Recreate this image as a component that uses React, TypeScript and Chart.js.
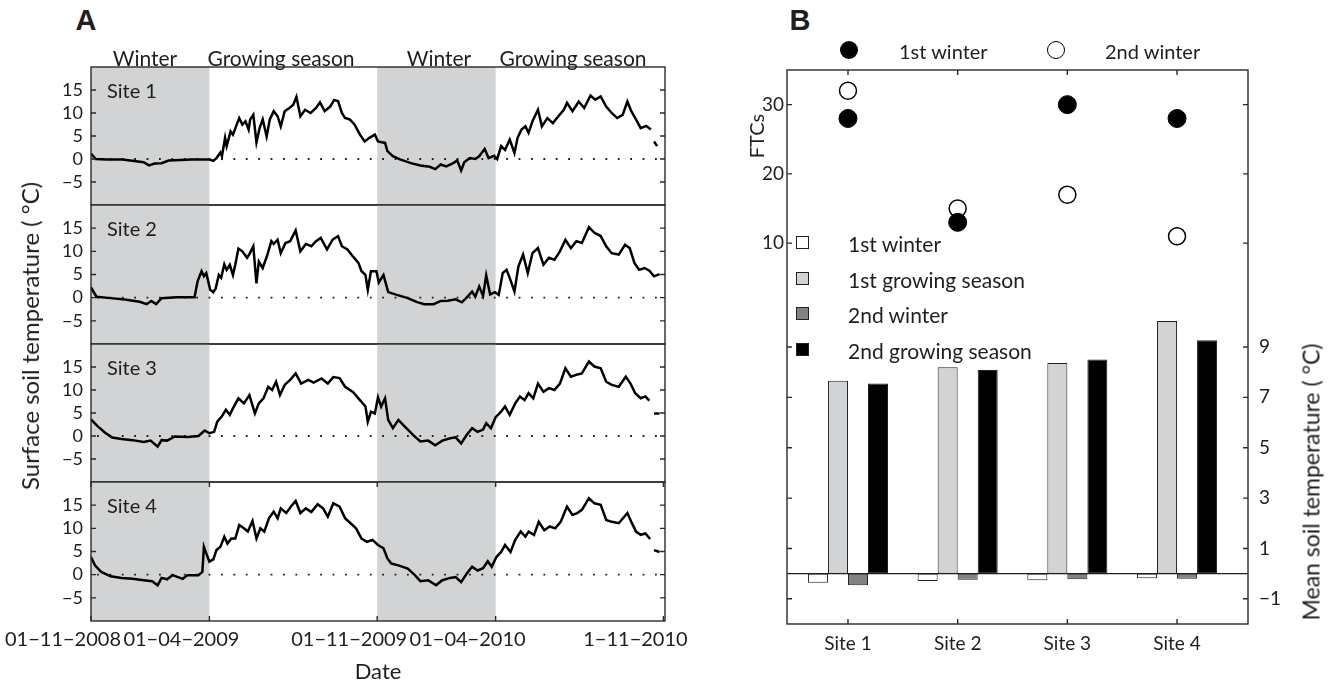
import React, { useEffect, useRef } from 'react';
import { Chart, registerables } from 'chart.js';

Chart.register(...registerables);

const FONT = 'Lato, "Open Sans", "DejaVu Sans", sans-serif';
const INK = '#1e1e1e';

// ---------------- Panel A data ----------------
const dateTickDays = [0, 151, 365, 516, 730];
const dateTickLabels = ['01\u221211\u22122008', '01\u221204\u22122009', '01\u221211\u22122009', '01\u221204\u22122010', '1\u221211\u22122010'];
const winterStarts = [0, 365];
const winterEnds = [151, 516];
const tempTicks = [-5, 0, 5, 10, 15];
const siteNames = ['Site 1', 'Site 2', 'Site 3', 'Site 4'];
const seasonLabels = ['Winter', 'Growing season', 'Winter', 'Growing season'];

const site1Days = [0,6,20,40,67,74,81,90,99,114,128,145,151,156,160,165,167,171,173,178,181,185,189,193,197,201,203,207,211,215,219,224,228,233,238,242,247,253,258,262,267,273,280,287,292,298,305,310,315,320,324,330,336,343,349,355,362,366,375,378,385,394,408,420,432,439,446,453,462,467,472,476,483,490,495,502,507,514,518,523,528,534,540,544,549,554,558,563,570,575,582,589,596,603,607,614,622,629,637,643,650,657,664,671,678,684,689,695,701,708,714,716,718,722];
const site1Temps = [1.2,0,-0.1,-0.1,-0.7,-1.4,-1.0,-0.9,-0.35,-0.2,-0.1,-0.1,-0.1,-0.4,0.2,1.4,0.6,4.6,2.8,6.0,5.3,7.1,8.9,7.5,8.2,6.4,8.6,9.6,3.6,6.7,8.6,4.9,8.6,10.4,9.3,7.1,10.4,11.1,11.8,13.5,9.3,10.7,10.0,11.1,12.3,10.4,11.4,12.8,12.6,10.0,8.9,8.6,7.5,5.3,3.8,4.6,5.3,3.8,3.5,1.7,0.6,-0.1,-0.9,-1.4,-1.7,-2.2,-1.2,-1.6,-0.9,-0.3,-2.5,-0.7,0.2,0,0.6,2.2,0.2,0.7,0,2.8,2.0,4.2,1.3,4.6,6.4,7.1,5.7,8.2,10.7,7.1,8.9,7.8,9.3,10.7,12.2,10.4,12.5,11.1,13.8,12.9,13.6,11.4,10.0,8.9,9.6,12.5,10.4,8.6,6.7,7.2,6.4,null,3.8,2.8];

const site2Days = [0,7,25,43,62,71,77,83,90,109,132,136,141,144,147,152,156,159,163,166,170,173,177,181,184,188,193,199,202,207,211,214,219,225,230,233,238,242,248,254,261,267,274,281,287,293,301,308,315,320,327,334,341,345,350,353,357,364,367,373,379,390,404,415,425,437,446,455,465,473,479,486,490,495,500,504,509,515,520,525,530,535,540,545,551,557,563,570,577,584,591,598,605,612,619,626,635,642,650,657,664,673,681,687,693,699,706,712,718,725];
const site2Temps = [2.2,0.2,-0.1,-0.4,-0.9,-1.4,-0.7,-1.4,-0.1,0.1,0.1,3.6,5.7,4.6,5.3,1.7,1.2,2.0,4.9,4.3,7.2,6.0,7.1,4.9,7.1,10.6,10.0,8.6,9.4,11.1,3.1,7.8,6.4,9.3,12.2,11.6,12.5,9.6,11.8,12.2,14.5,10.0,11.6,11.1,12.2,12.9,10.4,12.5,13.3,11.1,10.4,8.9,7.5,5.7,4.9,1.7,5.7,5.7,3.3,4.9,1.2,0.6,-0.1,-0.9,-1.4,-1.4,-0.7,-0.65,-0.35,-1.0,0,1.3,0.2,2.4,0.4,4.8,0.7,1.2,0.6,5.3,6.0,3.8,1.3,6.7,9.3,5.3,9.6,10.7,7.1,8.6,8.2,10.0,12.5,10.7,12.2,11.8,15.2,14.0,13.3,11.1,9.6,9.3,11.4,10.7,7.5,6.0,6.4,5.8,4.6,5.1];

const site3Days = [0,8,18,27,39,53,67,76,85,90,97,107,123,137,145,151,157,161,167,172,177,181,188,195,202,209,214,220,226,231,236,241,247,254,261,268,277,284,294,302,309,317,324,334,343,350,353,357,362,366,370,375,379,385,392,398,404,411,420,430,439,448,458,465,472,479,486,493,500,504,510,516,523,528,534,541,547,553,558,564,570,577,584,591,598,605,612,619,626,635,642,650,657,664,673,682,688,694,701,707,712,716,718,725];
const site3Temps = [3.6,2.2,0.7,-0.35,-0.65,-0.9,-1.3,-1.0,-2.3,-0.9,-1.0,-0.1,-0.2,0,1.2,0.6,0.9,3.1,4.3,5.7,4.6,6.0,8.2,7.1,8.9,4.9,7.1,8.2,10.7,10.0,11.8,8.9,11.1,12.2,13.6,11.4,12.2,11.6,12.5,11.4,12.8,12.6,10.7,9.6,7.8,6.4,3.1,5.3,4.9,8.4,6.4,8.2,3.5,1.7,3.5,2.4,1.4,0.2,-1.2,-1.0,-2.0,-1.0,-0.5,-0.3,-1.6,0.2,1.7,0.9,1.4,2.8,1.7,4.1,5.3,6.4,4.6,7.1,8.6,7.8,9.3,8.2,11.4,9.6,10.4,10.0,11.4,14.7,12.9,13.3,13.6,16.2,15.1,14.7,11.8,11.1,10.7,12.9,11.4,9.3,8.2,8.6,7.7,null,4.9,4.9];

const site4Days = [0,5,13,25,39,53,67,78,85,90,97,104,117,123,137,142,144,147,151,156,160,165,170,174,179,184,189,195,200,206,211,216,221,227,233,238,242,249,255,261,267,274,281,289,296,302,309,317,324,331,338,345,352,359,366,373,378,383,392,404,413,420,430,440,448,458,465,472,479,486,493,500,506,511,517,523,528,535,541,548,554,558,565,571,578,585,592,599,607,614,620,626,635,642,650,657,664,673,684,689,695,701,707,713,716,718,725];
const site4Temps = [3.8,2.0,0.6,-0.35,-0.7,-0.9,-1.2,-1.4,-2.3,-0.7,-1.0,-0.1,-0.9,-0.1,-0.1,0.6,6.0,4.6,2.8,3.3,5.3,6.0,8.2,6.7,7.8,7.8,10.7,10.0,9.3,11.6,7.8,10.0,9.3,12.2,13.6,12.2,14.3,13.3,14.7,15.9,13.3,14.3,13.5,15.2,14.3,12.5,15.4,14.7,12.2,11.1,10.0,7.8,7.1,7.5,6.4,5.7,3.5,2.4,2.0,1.3,-0.1,-1.4,-1.2,-2.3,-1.2,-0.7,-0.5,-1.6,0.2,1.7,0.9,1.4,2.9,1.7,3.8,4.9,6.4,4.9,7.5,9.3,8.2,9.3,8.6,11.4,9.6,10.4,10.0,11.4,14.7,12.9,13.3,14.0,16.5,15.4,15.1,11.8,11.4,11.1,13.3,11.4,9.3,8.6,8.9,7.7,null,5.3,4.9];

// ---------------- Panel B data ----------------
const barSites = ['Site 1', 'Site 2', 'Site 3', 'Site 4'];
const barSitePositions = [1, 2, 3, 4];
const ftcFirstWinter = [28, 13, 30, 28];
const ftcSecondWinter = [32, 15, 17, 11];
const meanFirstWinter = [-0.36, -0.29, -0.26, -0.18];
const meanFirstGrowing = [7.66, 8.2, 8.36, 10.03];
const meanSecondWinter = [-0.46, -0.24, -0.22, -0.2];
const meanSecondGrowing = [7.55, 8.09, 8.5, 9.27];
const ftcTicks = [10, 20, 30];
const meanTicks = [-1, 1, 3, 5, 7, 9];
const barSeriesNames = ['1st winter', '1st growing season', '2nd winter', '2nd growing season'];
const barColors = ['#ffffff', '#d1d3d4', '#808285', '#000000'];

// ---------------- layout constants ----------------
const A_TOPS = [67, 205, 344, 482];
const A_BOTTOMS = [205, 344, 482, 621];
const A_WIDTH = 700;
const A_RIGHT_PAD = 35;
const X_MAX = 732;

const fmtNum = (v: number) => (v < 0 ? '\u2212' + Math.abs(v) : String(v));

function paperPlugin(cfg: any) {
  return {
    id: 'paper' + cfg.key,
    beforeDatasetsDraw(chart: any) {
      const { ctx, chartArea: a, scales } = chart;
      ctx.save();
      if (cfg.shade) {
        const xs = scales.x;
        ctx.fillStyle = '#d1d3d4';
        for (let k = 0; k < winterStarts.length; k++) {
          const x0 = Math.max(a.left, xs.getPixelForValue(winterStarts[k]));
          const x1 = Math.min(a.right, xs.getPixelForValue(winterEnds[k]));
          ctx.fillRect(x0, a.top, x1 - x0, a.bottom - a.top);
        }
      }
      if (cfg.zeroAxis) {
        const ys = scales[cfg.zeroAxis];
        const y = ys.getPixelForValue(0);
        ctx.strokeStyle = INK;
        ctx.lineWidth = cfg.zeroWidth;
        ctx.setLineDash(cfg.zeroDash);
        ctx.beginPath();
        ctx.moveTo(a.left + (cfg.zeroDash.length ? 6 : 0), y);
        ctx.lineTo(a.right, y);
        ctx.stroke();
        ctx.setLineDash([]);
      }
      ctx.restore();
    },
    afterDatasetsDraw(chart: any) {
      const { ctx, chartArea: a, scales } = chart;
      const L = 5;
      ctx.save();
      ctx.strokeStyle = '#2a2a2a';
      ctx.lineWidth = 1.4;
      ctx.beginPath();
      (cfg.yTicks || []).forEach((id: string) => {
        const s = scales[id];
        s.ticks.forEach((t: any) => {
          const y = s.getPixelForValue(t.value);
          ctx.moveTo(a.left, y);
          ctx.lineTo(a.left + L, y);
          ctx.moveTo(a.right, y);
          ctx.lineTo(a.right - L, y);
        });
      });
      (cfg.xTicks || []).forEach((id: string) => {
        const s = scales[id];
        s.ticks.forEach((t: any) => {
          const x = s.getPixelForValue(t.value);
          ctx.moveTo(x, a.bottom);
          ctx.lineTo(x, a.bottom - L);
          ctx.moveTo(x, a.top);
          ctx.lineTo(x, a.top + L);
        });
      });
      ctx.stroke();
      ctx.strokeRect(a.left, a.top, a.right - a.left, a.bottom - a.top);
      ctx.restore();
    },
  };
}

const yTickFontA = { family: FONT, size: 18 };
const xTickFontA = { family: FONT, size: 20 };
const tickFontB = { family: FONT, size: 19 };

function makeSubplot(canvas: HTMLCanvasElement, i: number) {
  const days = [site1Days, site2Days, site3Days, site4Days][i];
  const temps = [site1Temps, site2Temps, site3Temps, site4Temps][i];
  const isBottom = i === 3;
  return new Chart(canvas, {
    type: 'line',
    data: {
      datasets: [
        {
          data: days.map((d, k) => ({ x: d, y: temps[k] })),
          borderColor: '#000',
          borderWidth: 2.5,
          pointRadius: 0,
          tension: 0,
          spanGaps: false,
        },
      ],
    },
    options: {
      animation: false,
      responsive: false,
      events: [],
      layout: { padding: { left: 0, right: A_RIGHT_PAD, top: 2, bottom: isBottom ? 0 : 2 } },
      plugins: { legend: { display: false }, tooltip: { enabled: false } },
      scales: {
        x: {
          type: 'linear',
          min: 0,
          max: X_MAX,
          display: isBottom,
          afterBuildTicks: (s: any) => {
            s.ticks = dateTickDays.map((v) => ({ value: v }));
          },
          afterFit: (s: any) => {
            if (isBottom) s.height = 64;
            s.paddingLeft = 0;
            s.paddingRight = 0;
          },
          grid: { display: false, drawTicks: false },
          border: { display: false },
          ticks: {
            font: xTickFontA,
            color: INK,
            padding: 7,
            labelOffset: -28,
            maxRotation: 0,
            minRotation: 0,
            autoSkip: false,
            callback: (v: any) => {
              const k = dateTickDays.indexOf(Number(v));
              return k >= 0 ? dateTickLabels[k] : '';
            },
          },
          title: {
            display: true,
            text: 'Date',
            font: { family: FONT, size: 22 },
            color: INK,
            padding: { top: 0, bottom: 0 },
          },
        },
        y: {
          type: 'linear',
          min: -10,
          max: 20,
          afterBuildTicks: (s: any) => {
            s.ticks = tempTicks.map((v) => ({ value: v }));
          },
          afterFit: (s: any) => {
            s.width = 91;
            s.paddingTop = 0;
            s.paddingBottom = 0;
          },
          grid: { display: false, drawTicks: false },
          border: { display: false },
          ticks: { font: yTickFontA, color: INK, padding: 8, callback: (v: any) => fmtNum(Number(v)) },
        },
      },
    } as any,
    plugins: [
      paperPlugin({
        key: 'a' + i,
        shade: true,
        zeroAxis: 'y',
        zeroWidth: 1.8,
        zeroDash: [1.8, 10.6],
        yTicks: ['y'],
        xTicks: isBottom ? ['x'] : [],
      }),
    ],
  });
}

function makeBarChart(canvas: HTMLCanvasElement) {
  const barSeries = [meanFirstWinter, meanFirstGrowing, meanSecondWinter, meanSecondGrowing];
  return new Chart(canvas, {
    type: 'bar',
    data: {
      datasets: [
        {
          type: 'line',
          label: '1st winter',
          data: barSitePositions.map((x, k) => ({ x, y: ftcFirstWinter[k] })),
          yAxisID: 'yL',
          showLine: false,
          pointRadius: 9,
          pointBackgroundColor: '#000',
          pointBorderColor: '#000',
          pointBorderWidth: 1,
        },
        {
          type: 'line',
          label: '2nd winter',
          data: barSitePositions.map((x, k) => ({ x, y: ftcSecondWinter[k] })),
          yAxisID: 'yL',
          showLine: false,
          pointRadius: 8.5,
          pointBackgroundColor: '#fff',
          pointBorderColor: '#000',
          pointBorderWidth: 1.5,
        },
        ...barSeries.map((vals, j) => ({
          type: 'bar',
          label: barSeriesNames[j],
          data: barSitePositions.map((x, k) => ({ x, y: vals[k] })),
          yAxisID: 'yR',
          backgroundColor: barColors[j],
          borderColor: '#231f20',
          borderWidth: 1,
          borderSkipped: false,
          categoryPercentage: 0.73,
          barPercentage: 1,
        })),
      ],
    } as any,
    options: {
      animation: false,
      responsive: false,
      events: [],
      layout: { padding: { left: 0, right: 0, top: 9, bottom: 0 } },
      plugins: { legend: { display: false }, tooltip: { enabled: false } },
      scales: {
        x: {
          type: 'linear',
          offset: false,
          min: 0.444,
          max: 4.647,
          afterBuildTicks: (s: any) => {
            s.ticks = barSitePositions.map((v) => ({ value: v }));
          },
          afterFit: (s: any) => {
            s.height = 61;
            s.paddingLeft = 0;
            s.paddingRight = 0;
          },
          grid: { display: false, drawTicks: false },
          border: { display: false },
          ticks: {
            font: tickFontB,
            color: INK,
            padding: 8,
            maxRotation: 0,
            autoSkip: false,
            callback: (v: any) => {
              const k = barSitePositions.indexOf(Number(v));
              return k >= 0 ? barSites[k] : '';
            },
          },
        },
        yL: {
          type: 'linear',
          position: 'left',
          min: -45,
          max: 35,
          afterBuildTicks: (s: any) => {
            s.ticks = ftcTicks.map((v) => ({ value: v }));
          },
          afterFit: (s: any) => {
            s.width = 47;
            s.paddingTop = 0;
            s.paddingBottom = 0;
          },
          grid: { display: false, drawTicks: false },
          border: { display: false },
          ticks: { font: tickFontB, color: INK, padding: 3 },
        },
        yR: {
          type: 'linear',
          position: 'right',
          min: -2,
          max: 20,
          afterBuildTicks: (s: any) => {
            s.ticks = meanTicks.map((v) => ({ value: v }));
          },
          afterFit: (s: any) => {
            s.width = 82;
            s.paddingTop = 0;
            s.paddingBottom = 0;
          },
          grid: { display: false, drawTicks: false },
          border: { display: false },
          ticks: { font: tickFontB, color: INK, padding: 11, callback: (v: any) => fmtNum(Number(v)) },
        },
      },
    } as any,
    plugins: [
      paperPlugin({
        key: 'b',
        shade: false,
        zeroAxis: 'yR',
        zeroWidth: 1.2,
        zeroDash: [],
        yTicks: ['yL', 'yR'],
        xTicks: ['x'],
      }),
    ],
  });
}

const abs = (s: React.CSSProperties): React.CSSProperties => ({ position: 'absolute', whiteSpace: 'nowrap', ...s });
const centered = (cx: number, cy: number, extra: React.CSSProperties = {}): React.CSSProperties =>
  abs({ left: cx, top: cy, transform: 'translate(-50%, -50%)', lineHeight: 1, ...extra });
const rotated = (cx: number, cy: number, size: number): React.CSSProperties =>
  abs({ left: cx, top: cy, transform: 'translate(-50%, -50%) rotate(-90deg)', lineHeight: 1, fontSize: size });

export default function App() {
  const aRefs = [useRef<HTMLCanvasElement>(null), useRef<HTMLCanvasElement>(null), useRef<HTMLCanvasElement>(null), useRef<HTMLCanvasElement>(null)];
  const bRef = useRef<HTMLCanvasElement>(null);

  useEffect(() => {
    const charts: Chart[] = [];
    aRefs.forEach((r, i) => {
      if (r.current) charts.push(makeSubplot(r.current, i));
    });
    if (bRef.current) charts.push(makeBarChart(bRef.current));
    return () => charts.forEach((c) => c.destroy());
  }, []);

  const seasonCenters = [145, 281, 439, 573];
  const legendRows = [242, 278, 313, 349];

  return (
    <div style={abs({ left: 0, top: 0, width: 1330, height: 685, background: '#fff', fontFamily: FONT, color: INK, overflow: 'hidden' })}>
      {A_TOPS.map((t, i) => {
        const isBottom = i === 3;
        const h = A_BOTTOMS[i] - t + 2 + (isBottom ? 64 : 2);
        return <canvas key={i} ref={aRefs[i]} width={A_WIDTH} height={h} style={abs({ left: 0, top: t - 2, width: A_WIDTH, height: h })} />;
      })}
      <canvas ref={bRef} width={590} height={625} style={abs({ left: 740, top: 60, width: 590, height: 625 })} />

      {/* Panel letters */}
      <div style={centered(86, 20, { fontSize: 29, fontWeight: 700, fontFamily: '"Liberation Sans", Arial, sans-serif' })}>A</div>
      <div style={centered(800, 20, { fontSize: 29, fontWeight: 700, fontFamily: '"Liberation Sans", Arial, sans-serif' })}>B</div>

      {/* Season labels */}
      {seasonLabels.map((s, k) => (
        <div key={k} style={centered(seasonCenters[k], 57, { fontSize: 21 })}>{s}</div>
      ))}

      {/* Site labels */}
      {siteNames.map((s, k) => (
        <div key={k} style={abs({ left: 107, top: A_TOPS[k] + 23, transform: 'translateY(-50%)', lineHeight: 1, fontSize: 20 })}>{s}</div>
      ))}

      {/* Axis titles */}
      <div style={rotated(30, 336, 24)}>Surface soil temperature ( °C)</div>
      <div style={rotated(756, 136, 20)}>FTCs</div>
      <div style={rotated(1311, 482, 23)}>Mean soil temperature ( °C)</div>

      {/* Top legend (FTCs) */}
      <div style={abs({ left: 840, top: 41, width: 18, height: 18, borderRadius: '50%', background: '#000' })} />
      <div style={abs({ left: 899, top: 51, transform: 'translateY(-50%)', lineHeight: 1, fontSize: 20 })}>1st winter</div>
      <div style={abs({ left: 1047, top: 41, width: 16, height: 16, borderRadius: '50%', background: '#fff', border: '1.5px solid #000' })} />
      <div style={abs({ left: 1105, top: 51, transform: 'translateY(-50%)', lineHeight: 1, fontSize: 20 })}>2nd winter</div>

      {/* Bar legend */}
      {barSeriesNames.map((s, k) => (
        <React.Fragment key={k}>
          <div style={abs({ left: 796, top: legendRows[k] - 6, width: 11, height: 11, background: barColors[k], border: '1px solid #231f20' })} />
          <div style={abs({ left: 848, top: legendRows[k] + 1, transform: 'translateY(-50%)', lineHeight: 1, fontSize: 21 })}>{s}</div>
        </React.Fragment>
      ))}
    </div>
  );
}
